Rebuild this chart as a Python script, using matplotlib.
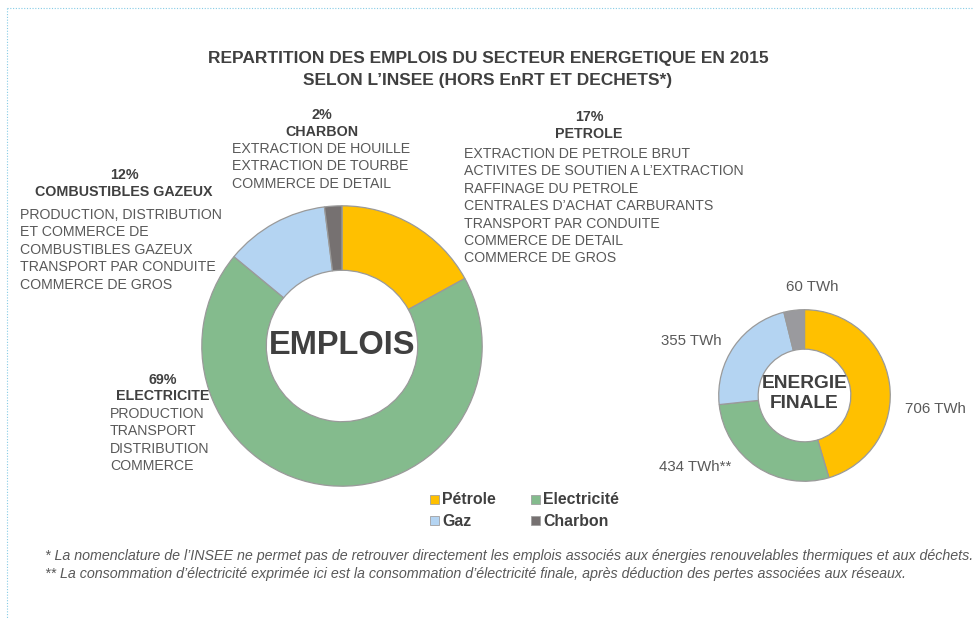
import matplotlib
matplotlib.use("Agg")
import matplotlib.pyplot as plt
from matplotlib.lines import Line2D

plt.rcParams['font.family'] = ['Liberation Sans', 'DejaVu Sans']

# ---- data ----
categories = ['Pétrole', 'Electricité', 'Gaz', 'Charbon']
emplois_pct = [17, 69, 12, 2]
energie_twh = [706, 434, 355, 60]
energie_suffix = ['', '**', '', '']
sector_names = ['PETROLE', 'ELECTRICITE', 'COMBUSTIBLES GAZEUX', 'CHARBON']
sector_details = [
    ['EXTRACTION DE PETROLE BRUT', 'ACTIVITES DE SOUTIEN A L\u2019EXTRACTION',
     'RAFFINAGE DU PETROLE', 'CENTRALES D\u2019ACHAT CARBURANTS',
     'TRANSPORT PAR CONDUITE', 'COMMERCE DE DETAIL', 'COMMERCE DE GROS'],
    ['PRODUCTION', 'TRANSPORT', 'DISTRIBUTION', 'COMMERCE'],
    ['PRODUCTION, DISTRIBUTION', 'ET COMMERCE DE', 'COMBUSTIBLES GAZEUX',
     'TRANSPORT PAR CONDUITE', 'COMMERCE DE GROS'],
    ['EXTRACTION DE HOUILLE', 'EXTRACTION DE TOURBE', 'COMMERCE DE DETAIL'],
]
title_lines = ['REPARTITION DES EMPLOIS DU SECTEUR ENERGETIQUE EN 2015',
               'SELON L\u2019INSEE (HORS EnRT ET DECHETS*)']
footnotes = [
    '* La nomenclature de l\u2019INSEE ne permet pas de retrouver directement les emplois associés aux énergies renouvelables thermiques et aux déchets.',
    '** La consommation d\u2019électricité exprimée ici est la consommation d\u2019électricité finale, après déduction des pertes associées aux réseaux.',
]

colors_big = ['#FFC000', '#84BB8D', '#B4D4F2', '#767171']
colors_small = ['#FFC000', '#84BB8D', '#B4D4F2', '#9A9A9E']
TXT = '#404040'
TXT2 = '#595959'

W, H = 974, 619
fig = plt.figure(figsize=(W / 100, H / 100), dpi=100)


def fx(x):
    return x / W


def fy(y):
    return 1 - y / H


def ptext(x, y, s, **kw):
    fig.text(fx(x), fy(y), s, **kw)


# border (dotted)
fig.add_artist(Line2D([fx(7), 1], [fy(8), fy(8)], transform=fig.transFigure,
                      color='#86CCE6', lw=0.8, ls=(0, (1, 1.5))))
fig.add_artist(Line2D([fx(7), fx(7)], [fy(8), 0], transform=fig.transFigure,
                      color='#86CCE6', lw=0.8, ls=(0, (1, 1.5))))

# title
ptext(488, 58, title_lines[0], ha='center', va='center', fontsize=12.55,
      fontweight='bold', color=TXT)
ptext(488, 80, title_lines[1], ha='center', va='center', fontsize=12.55,
      fontweight='bold', color=TXT)

# big donut
cx, cy, r = 342, 346, 143
ax1 = fig.add_axes([fx(cx - r), fy(cy + r), 2 * r / W, 2 * r / H])
ax1.pie(emplois_pct, colors=colors_big, startangle=90, counterclock=False,
        radius=1, wedgeprops=dict(width=0.46, edgecolor='#9a9a9a', linewidth=0.9))
ax1.set_xlim(-1.02, 1.02)
ax1.set_ylim(-1.02, 1.02)
ax1.set_aspect('equal')
ax1.axis('off')
ax1.text(0, 0, 'EMPLOIS', ha='center', va='center', fontsize=23.5,
         fontweight='bold', color=TXT)

# small donut
sx, sy, sr = 804.5, 395.5, 87.5
ax2 = fig.add_axes([fx(sx - sr), fy(sy + sr), 2 * sr / W, 2 * sr / H])
ax2.pie(energie_twh, colors=colors_small, startangle=90, counterclock=False,
        radius=1, wedgeprops=dict(width=0.46, edgecolor='#9a9a9a', linewidth=0.9))
ax2.set_xlim(-1.02, 1.02)
ax2.set_ylim(-1.02, 1.02)
ax2.set_aspect('equal')
ax2.axis('off')
ax2.text(0, 0.02, 'ENERGIE\nFINALE', ha='center', va='center', fontsize=13.8,
         fontweight='bold', color=TXT, linespacing=1.2)

# TWh labels (positions in pixels)
twh_pos = [(905, 409, 'left'), (695, 467, 'center'), (722, 341, 'right'),
           (812, 287, 'center')]
for v, suf, (x, y, ha) in zip(energie_twh, energie_suffix, twh_pos):
    ptext(x, y, f'{v} TWh{suf}', ha=ha, va='center', fontsize=10.8, color=TXT2)

# sector annotation blocks: (center x of header, header y, left x of details, first detail y)
blocks = [
    (589, 117, 464, 154),   # Pétrole
    (163, 380, 110, 414),   # Electricité
    (124, 175, 20, 215),    # Gaz
    (322, 115, 232, 149),   # Charbon
]
step = 17.4
for pct, name, details, (hx, hy, dx, dy) in zip(emplois_pct, sector_names,
                                                 sector_details, blocks):
    ptext(hx, hy, f'{pct}%', ha='center', va='center', fontsize=10.3,
          fontweight='bold', color=TXT)
    ptext(hx, hy + 16.5, name, ha='center', va='center', fontsize=10.3,
          fontweight='bold', color=TXT)
    for i, line in enumerate(details):
        ptext(dx, dy + i * step, line, ha='left', va='center', fontsize=10.2,
              color=TXT2)

# legend
leg_pos = [(430, 500), (531, 500), (430, 521), (531, 521)]
for cat, col, (x, y) in zip(categories, colors_big, leg_pos):
    fig.patches.append(plt.Rectangle((fx(x), fy(y + 4)), 9 / W, 9 / H,
                                     transform=fig.transFigure, facecolor=col,
                                     edgecolor='#a0a0a0', linewidth=0.6))
    ptext(x + 12, y, cat, ha='left', va='center', fontsize=11.4,
          fontweight='bold', color=TXT)

# footnotes
ptext(45, 556, footnotes[0], ha='left', va='center', fontsize=10.25,
      style='italic', color=TXT2)
ptext(45, 574, footnotes[1], ha='left', va='center', fontsize=10.25,
      style='italic', color=TXT2)

fig.savefig('out.png', dpi=100, facecolor='white')
